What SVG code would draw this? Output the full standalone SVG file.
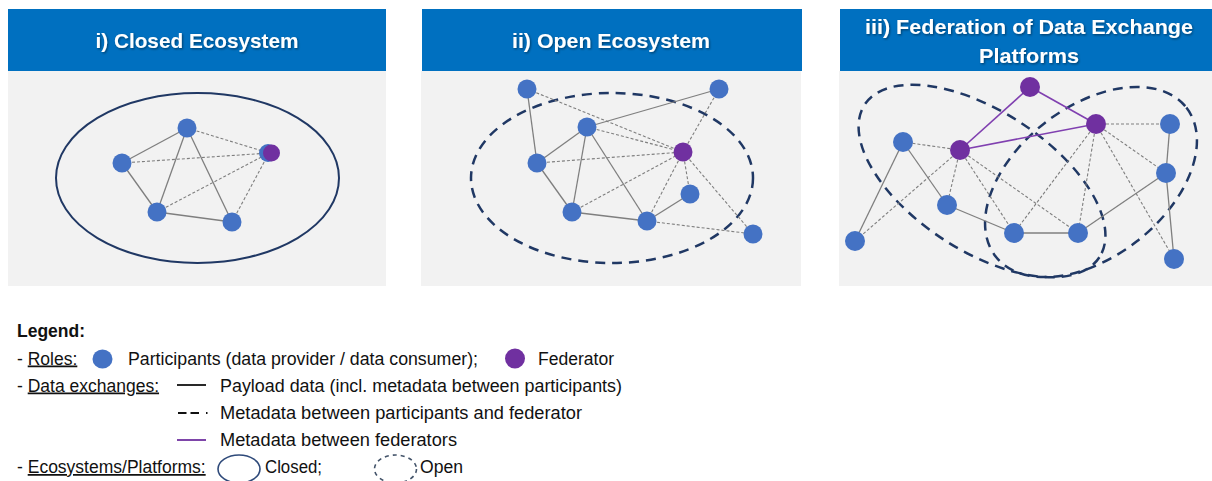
<svg xmlns="http://www.w3.org/2000/svg" width="1212" height="481" viewBox="0 0 1212 481">
<defs>
<filter id="sh" x="-10%" y="-30%" width="120%" height="160%">
<feDropShadow dx="1" dy="1.2" stdDeviation="0.8" flood-color="#000" flood-opacity="0.45"/>
</filter>
<style>
.hdr{fill:#0070C0}
.bg{fill:#F2F2F2}
.title{font-family:"Liberation Sans",Arial,sans-serif;font-weight:bold;font-size:21px;fill:#fff;text-anchor:middle}
.p{fill:#4472C4}
.f{fill:#7030A0}
.s{stroke:#7F7F7F;stroke-width:1.3;fill:none}
.d{stroke:#7F7F7F;stroke-width:1.1;stroke-dasharray:3 2;fill:none}
.m{stroke:#8040B0;stroke-width:1.6;fill:none}
.closed{stroke:#203864;stroke-width:2;fill:none}
.open{stroke:#203864;stroke-width:2.5;stroke-dasharray:10 7;fill:none}
.lg{font-family:"Liberation Sans",Arial,sans-serif;font-size:17.5px;fill:#111}
.u{text-decoration:underline}
</style>
</defs>
<rect width="1212" height="481" fill="#fff"/>

<!-- Panel 1 -->
<g id="panel1">
<rect class="bg" x="8" y="71" width="378" height="215"/>
<rect class="hdr" x="8" y="9" width="378" height="62"/>
<text class="title" x="197" y="48" filter="url(#sh)" textLength="203" lengthAdjust="spacingAndGlyphs">i) Closed Ecosystem</text>
<ellipse class="closed" cx="197.5" cy="178" rx="141.5" ry="85"/>
</g>
<g id="connectors1">
<line class="s" x1="187" y1="128" x2="122" y2="163"/>
<line class="s" x1="187" y1="128" x2="157" y2="212"/>
<line class="s" x1="187" y1="128" x2="232" y2="222"/>
<line class="s" x1="122" y1="163" x2="157" y2="212"/>
<line class="s" x1="157" y1="212" x2="232" y2="222"/>
<line class="d" x1="187" y1="128" x2="269" y2="153"/>
<line class="d" x1="122" y1="163" x2="269" y2="153"/>
<line class="d" x1="157" y1="212" x2="269" y2="153"/>
<line class="d" x1="232" y1="222" x2="269" y2="153"/>
</g>
<g id="n1-top"><circle class="p" cx="187" cy="128" r="9.5"/></g>
<g id="n1-left"><circle class="p" cx="122" cy="163" r="9.5"/></g>
<g id="n1-fed"><circle class="p" cx="268" cy="153" r="9"/><circle class="f" cx="271.5" cy="153" r="8.5"/></g>
<g id="n1-bl"><circle class="p" cx="157" cy="212" r="9.5"/></g>
<g id="n1-br"><circle class="p" cx="232" cy="222" r="9.5"/></g>

<!-- Panel 2 -->
<g id="panel2">
<rect class="bg" x="421" y="71" width="380" height="215"/>
<rect class="hdr" x="422" y="9" width="380" height="62"/>
<text class="title" x="611" y="48" filter="url(#sh)" textLength="198" lengthAdjust="spacingAndGlyphs">ii) Open Ecosystem</text>
<ellipse class="open" cx="612" cy="178" rx="141" ry="85"/>
</g>
<g id="connectors2">
<line class="s" x1="527" y1="89" x2="537" y2="163"/>
<line class="s" x1="587" y1="127" x2="719" y2="89"/>
<line class="s" x1="587" y1="127" x2="537" y2="163"/>
<line class="s" x1="587" y1="127" x2="572" y2="212"/>
<line class="s" x1="587" y1="127" x2="647" y2="221"/>
<line class="s" x1="537" y1="163" x2="572" y2="212"/>
<line class="s" x1="572" y1="212" x2="647" y2="221"/>
<line class="s" x1="647" y1="221" x2="690" y2="194"/>
<line class="d" x1="527" y1="89" x2="683" y2="152"/>
<line class="d" x1="719" y1="89" x2="683" y2="152"/>
<line class="d" x1="587" y1="127" x2="683" y2="152"/>
<line class="d" x1="537" y1="163" x2="683" y2="152"/>
<line class="d" x1="572" y1="212" x2="683" y2="152"/>
<line class="d" x1="647" y1="221" x2="683" y2="152"/>
<line class="d" x1="690" y1="194" x2="683" y2="152"/>
<line class="d" x1="683" y1="152" x2="753" y2="234"/>
<line class="d" x1="647" y1="221" x2="753" y2="234"/>
</g>
<g id="n2-a"><circle class="p" cx="527" cy="89" r="9.5"/></g>
<g id="n2-b"><circle class="p" cx="719" cy="89" r="9.5"/></g>
<g id="n2-c"><circle class="p" cx="587" cy="127" r="9.5"/></g>
<g id="n2-d"><circle class="p" cx="537" cy="163" r="9.5"/></g>
<g id="n2-fed"><circle class="f" cx="683" cy="152" r="9.5"/></g>
<g id="n2-e"><circle class="p" cx="690" cy="194" r="9.5"/></g>
<g id="n2-g"><circle class="p" cx="572" cy="212" r="9.5"/></g>
<g id="n2-h"><circle class="p" cx="647" cy="221" r="9.5"/></g>
<g id="n2-i"><circle class="p" cx="753" cy="234" r="9.5"/></g>

<!-- Panel 3 -->
<g id="panel3">
<rect class="bg" x="839" y="71" width="373" height="215"/>
<rect class="hdr" x="840" y="9" width="372" height="62"/>
<text class="title" x="1029" y="34" filter="url(#sh)" textLength="328" lengthAdjust="spacingAndGlyphs">iii) Federation of Data Exchange</text>
<text class="title" x="1029" y="63" filter="url(#sh)" textLength="100" lengthAdjust="spacingAndGlyphs">Platforms</text>
<ellipse class="open" cx="982" cy="181" rx="140" ry="70" transform="rotate(33 982 181)"/>
<ellipse class="open" cx="1091" cy="182" rx="121" ry="75" transform="rotate(-38 1091 182)"/>
</g>
<g id="connectors3">
<line class="s" x1="903" y1="142" x2="855" y2="241"/>
<line class="s" x1="903" y1="142" x2="947" y2="205"/>
<line class="s" x1="947" y1="205" x2="1014" y2="233"/>
<line class="s" x1="1014" y1="233" x2="1078" y2="233"/>
<line class="s" x1="1078" y1="233" x2="1166" y2="173"/>
<line class="s" x1="1170" y1="124" x2="1166" y2="173"/>
<line class="s" x1="1166" y1="173" x2="1174" y2="259"/>
<line class="d" x1="960" y1="150" x2="903" y2="142"/>
<line class="d" x1="960" y1="150" x2="855" y2="241"/>
<line class="d" x1="960" y1="150" x2="947" y2="205"/>
<line class="d" x1="960" y1="150" x2="1014" y2="233"/>
<line class="d" x1="960" y1="150" x2="1078" y2="233"/>
<line class="d" x1="1096" y1="124" x2="1170" y2="124"/>
<line class="d" x1="1096" y1="124" x2="1166" y2="173"/>
<line class="d" x1="1096" y1="124" x2="1174" y2="259"/>
<line class="d" x1="1096" y1="124" x2="1078" y2="233"/>
<line class="d" x1="1096" y1="124" x2="1014" y2="233"/>
<line class="m" x1="960" y1="150" x2="1030" y2="87"/>
<line class="m" x1="1030" y1="87" x2="1096" y2="124"/>
<line class="m" x1="960" y1="150" x2="1096" y2="124"/>
</g>
<g id="n3-fed1"><circle class="f" cx="1030" cy="87" r="10"/></g>
<g id="n3-fed2"><circle class="f" cx="1096" cy="124" r="10"/></g>
<g id="n3-fed3"><circle class="f" cx="960" cy="150" r="10"/></g>
<g id="n3-a"><circle class="p" cx="903" cy="142" r="10"/></g>
<g id="n3-b"><circle class="p" cx="947" cy="205" r="10"/></g>
<g id="n3-c"><circle class="p" cx="855" cy="241" r="10"/></g>
<g id="n3-d"><circle class="p" cx="1014" cy="233" r="10"/></g>
<g id="n3-e"><circle class="p" cx="1078" cy="233" r="10"/></g>
<g id="n3-f"><circle class="p" cx="1170" cy="124" r="10"/></g>
<g id="n3-g"><circle class="p" cx="1166" cy="173" r="10"/></g>
<g id="n3-h"><circle class="p" cx="1174" cy="259" r="10"/></g>

<!-- Legend -->
<g id="legend">
<text class="lg" x="17" y="337" font-weight="bold">Legend:</text>
<text class="lg" x="17" y="364.5">- <tspan class="u">Roles:</tspan></text>
<ellipse class="p" cx="102.5" cy="359" rx="10" ry="9.5"/>
<text class="lg" x="128" y="364.5" textLength="350" lengthAdjust="spacingAndGlyphs">Participants (data provider / data consumer);</text>
<circle class="f" cx="515" cy="358.5" r="10"/>
<text class="lg" x="538" y="364.5" textLength="76" lengthAdjust="spacingAndGlyphs">Federator</text>
<text class="lg" x="17" y="391.5">- <tspan class="u">Data exchanges:</tspan></text>
<line x1="177" y1="385" x2="206" y2="385" stroke="#111" stroke-width="1.8"/>
<text class="lg" x="220" y="391.5" textLength="402" lengthAdjust="spacingAndGlyphs">Payload data (incl. metadata between participants)</text>
<line x1="178" y1="413" x2="209" y2="413" stroke="#111" stroke-width="1.8" stroke-dasharray="8.5 4 8.5 7 1.5 10"/>
<text class="lg" x="220" y="419" textLength="362" lengthAdjust="spacingAndGlyphs">Metadata between participants and federator</text>
<line x1="177" y1="440" x2="206" y2="440" stroke="#7030A0" stroke-width="1.8"/>
<text class="lg" x="220" y="446" textLength="237" lengthAdjust="spacingAndGlyphs">Metadata between federators</text>
<text class="lg" x="17" y="473">- <tspan class="u">Ecosystems/Platforms:</tspan></text>
<ellipse cx="239" cy="469" rx="21" ry="14" fill="none" stroke="#2F4A7A" stroke-width="1.6"/>
<text class="lg" x="265" y="473" textLength="57" lengthAdjust="spacingAndGlyphs">Closed;</text>
<ellipse cx="395.5" cy="469" rx="21" ry="14" fill="none" stroke="#44546A" stroke-width="1.6" stroke-dasharray="4 4"/>
<text class="lg" x="420" y="473" textLength="43" lengthAdjust="spacingAndGlyphs">Open</text>
</g>
</svg>
